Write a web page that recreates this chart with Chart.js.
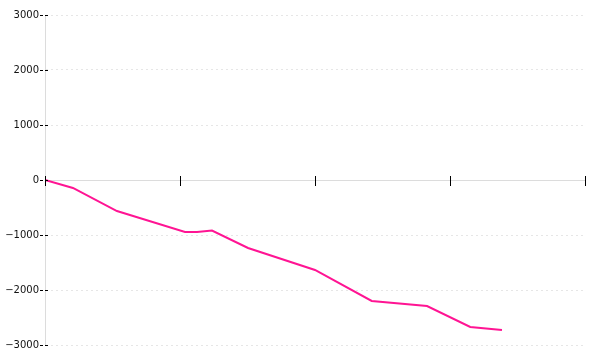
<!DOCTYPE html>
<html>
<head>
<meta charset="utf-8">
<script src="https://cdn.jsdelivr.net/npm/chart.js@4/dist/chart.umd.min.js"></script>
<style>
html,body{margin:0;padding:0;background:#fff;}
#wrap{width:600px;height:360px;position:relative;}
</style>
</head>
<body>
<div id="wrap"><canvas id="c"></canvas></div>
<script>
// Data
const xValues = [0, 2.07, 5.33, 10.37, 11.26, 12.37, 15.04, 20, 24.2, 28.3, 31.5, 33.85];
const yValues = [0, -145, -564, -945, -945, -918, -1236, -1636, -2200, -2291, -2673, -2727];
const yTickValues = [-3000, -2000, -1000, 0, 1000, 2000, 3000];
const xTickValues = [0, 10, 20, 30, 40];

const points = xValues.map((x, i) => ({x: x, y: yValues[i]}));

const crossTicks = {
  id: 'crossTicks',
  afterDraw(chart) {
    const ctx = chart.ctx;
    const xs = chart.scales.x, ys = chart.scales.y;
    const y0 = Math.round(ys.getPixelForValue(0));
    const xAxis = Math.round(xs.left);
    ctx.save();
    ctx.strokeStyle = '#000';
    ctx.lineWidth = 1;
    xTickValues.forEach(v => {
      const px = Math.round(xs.getPixelForValue(v)) + 0.5;
      ctx.beginPath();
      ctx.moveTo(px, y0 - 4);
      ctx.lineTo(px, y0 + 6);
      ctx.stroke();
    });
    ctx.setLineDash([3, 2]);
    yTickValues.forEach(v => {
      const py = Math.round(ys.getPixelForValue(v)) + 0.5;
      ctx.beginPath();
      ctx.moveTo(xAxis - 5, py);
      ctx.lineTo(xAxis + 3, py);
      ctx.stroke();
    });
    ctx.restore();
  }
};

new Chart(document.getElementById('c'), {
  type: 'line',
  data: {
    datasets: [{
      data: points,
      borderColor: '#ff1493',
      borderWidth: 2,
      pointRadius: 0,
      tension: 0,
      fill: false
    }]
  },
  options: {
    responsive: true,
    maintainAspectRatio: false,
    animation: false,
    layout: {padding: {top: 15, bottom: 15, right: 15, left: 0}},
    plugins: {legend: {display: false}, tooltip: {enabled: false}},
    scales: {
      x: {
        type: 'linear',
        min: 0,
        max: 40,
        position: {y: 0},
        ticks: {display: false, stepSize: 10},
        grid: {drawOnChartArea: false, drawTicks: false},
        border: {color: '#dcdcdc', width: 1}
      },
      y: {
        type: 'linear',
        min: -3000,
        max: 3000,
        afterBuildTicks: (scale) => { scale.ticks = yTickValues.map(v => ({value: v})); },
        afterFit: (scale) => { scale.width = 45; },
        ticks: {
          padding: 6,
          color: '#111',
          font: {family: 'DejaVu Sans', size: 10},
          callback: (v) => String(v).replace('-', '\u2212')
        },
        grid: {color: '#e6e6e6', drawTicks: false},
        border: {color: '#dcdcdc', width: 1, dash: [2, 3]}
      }
    }
  },
  plugins: [crossTicks]
});
</script>
</body>
</html>
